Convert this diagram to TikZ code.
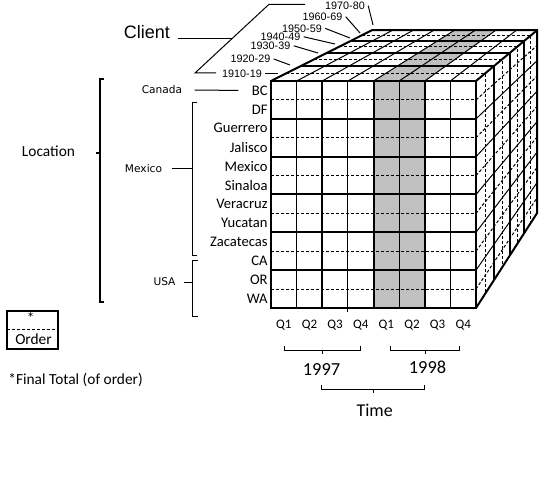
\documentclass[tikz,border=0pt]{standalone}
\usepackage{fontspec}
\setmainfont{Carlito}
\newfontfamily\arialfont{Liberation Sans}
\newfontfamily\verdfont{DejaVu Sans}
\usetikzlibrary{calc}
\definecolor{slicegray}{RGB}{192,192,192}

\begin{document}
\begin{tikzpicture}[x=0.5pt,y=-0.5pt,
  thk/.style={line width=1pt},
  thn/.style={line width=0.5pt},
  dsh/.style={line width=0.5pt,dash pattern=on 1.5pt off 1pt},
  brk/.style={line width=0.5pt},
  rowlab/.style={anchor=east,inner sep=0pt,font=\fontsize{7.3}{8}\selectfont},
  qlab/.style={inner sep=0pt,font=\fontsize{6.5}{7}\selectfont},
  declab/.style={inner sep=0pt,font=\arialfont\fontsize{5.4}{6}\selectfont},
  cntlab/.style={inner sep=0pt,font=\verdfont\fontsize{5.3}{6}\selectfont},
  txtlab/.style={inner sep=0pt,font=\fontsize{7.7}{9}\selectfont},
  yearlab/.style={inner sep=0pt,font=\fontsize{9.2}{10}\selectfont}]
  \fill[white] (0,0) rectangle (550,480);
  \useasboundingbox (0,0) rectangle (550,480);
  \def\xl{271}  \def\xr{476}
  \def\yt{81}   \def\yb{308}
  \def\cw{25.625}
  \def\rh{18.9167}
  \def\dk{0.242}  % depth foreshortening
  \coordinate (vp) at (790,-180);

  % ================= cube corner points =================
  \foreach \i in {0,...,8} {
    \coordinate (tl\i) at ($(vp)!{1/(1+\dk*\i/8)}!(\xl,\yt)$);
    \coordinate (tr\i) at ($(vp)!{1/(1+\dk*\i/8)}!(\xr,\yt)$);
    \coordinate (br\i) at ($(vp)!{1/(1+\dk*\i/8)}!(\xr,\yb)$);
  }
  \foreach \j in {0,...,8} {
    \coordinate (fc\j) at ({\xl+\cw*\j},\yt);
    \coordinate (bc\j) at ($(vp)!{1/(1+\dk)}!(fc\j)$);
  }
  \foreach \k in {0,...,12} {
    \coordinate (fr\k) at (\xr,{\yt+\rh*\k});
    \coordinate (bk\k) at ($(vp)!{1/(1+\dk)}!(fr\k)$);
  }

  % ================= 1998 Q1-Q2 slice =================
  \fill[slicegray] (fc4) -- (fc6) -- (bc6) -- (bc4) -- cycle;
  \fill[slicegray] (fc4) rectangle ({\xl+6*\cw},\yb);

  % front face
  \foreach \j in {1,3,5,7} \draw[thn] (fc\j) -- ({\xl+\cw*\j},\yb);
  \foreach \j in {2,4,6} \draw[thk] (fc\j) -- ({\xl+\cw*\j},\yb);
  \foreach \k in {1,3,...,11} \draw[dsh] (\xl,{\yt+\rh*\k}) -- (fr\k);
  \foreach \k in {2,4,...,10} \draw[thk] (\xl,{\yt+\rh*\k}) -- (fr\k);
  \draw[thn] ({\xl+3*\cw},\yb) -- ++(0,4);

  % top and side faces
  \foreach \j in {1,...,7} \draw[thn] (fc\j) -- (bc\j);
  \foreach \k in {1,3,...,11} \draw[dsh] (fr\k) -- (bk\k);
  \foreach \k in {2,4,...,10} \draw[thn] (fr\k) -- (bk\k);
  \foreach \i in {1,3,5,7} \draw[dsh] (tl\i) -- (tr\i) -- (br\i);
  \foreach \i in {2,4,6} \draw[thk] (tl\i) -- (tr\i) -- (br\i);

  % outline
  \draw[thk] (\xl,\yt) rectangle (\xr,\yb);
  \draw[thk] (tl0) -- (tl8) -- (tr8) -- (br8) -- (br0);
  \draw[thk] (tr0) -- (tr8);

  % ================= Client (decades) =================
  \node[inner sep=0pt,font=\arialfont\fontsize{9}{10}\selectfont] (cl) at (147,32) {Client};
  \coordinate (cb1) at (195,73);
  \coordinate (cb2) at (269,4.3);
  \draw[brk] (216,73) -- (cb1) -- (cb2) -- (305,4.3);
  \coordinate (cbm) at ($(cb1)!0.5!(cb2)$);
  \draw[brk] ([xshift=4pt]cl.east |- cbm) -- (cbm);
  \foreach \d/\x/\y/\ex/\ey [count=\n] in {1910-19/242/74/278/74,
      1920-29/250.5/59/290/65, 1930-39/270.5/45.8/318/53,
      1940-49/280.5/36.8/335/44, 1950-59/302/28.4/350/38,
      1960-69/322.5/16.7/360/33, 1970-80/345/5.7/373/25} {
    \node[declab] (dec\n) at (\x,\y) {\d};
    \coordinate (dt\n) at (\ex,\ey);
    \draw[thn] ([xshift=1.5pt]dec\n.east) -- (dt\n);
  }

  % ================= Location =================
  \foreach \lab [count=\k from 0] in {BC,DF,Guerrero,Jalisco,Mexico,Sinaloa,
      Veracruz,Yucatan,Zacatecas,CA,OR,WA}
    \node[rowlab] (r\k) at (268,{\yt+\rh*(\k+0.5)}) {\lab};

  \node[txtlab] (loc) at (48.5,151.7) {Location};
  \draw[line width=1pt] (104,79) -- (100,79) -- (100,302) -- (104,302);
  \draw[line width=1pt] (100,153) -- (96,153);

  \node[cntlab] (cn) at (162,90) {Canada};
  \draw[thn] ([xshift=6pt]cn.east) -- ([xshift=-6.5pt]r0.west);

  \node[cntlab] (mx) at (143.5,169) {Mexico};
  \draw[brk] (197,103) -- (192.7,103) -- (192.7,255.7) -- (197,255.7);
  \coordinate (mxm) at (192.7,169);
  \draw[brk] ([xshift=5pt]mx.east) -- (mxm);

  \node[cntlab] (us) at (164.5,282) {USA};
  \draw[brk] (198,260.7) -- (192.7,260.7) -- (192.7,316.7) -- (198,316.7);
  \coordinate (usm) at (192.7,282);
  \draw[brk] ([xshift=4pt]us.east) -- (usm);

  % ================= Time =================
  \foreach \q [count=\j from 0] in {Q1,Q2,Q3,Q4,Q1,Q2,Q3,Q4}
    \node[qlab] (q\j) at ({\xl+\cw*(\j+0.5)},325) {\q};
  \draw[brk] (284,346) -- (284,350.7) -- (360.7,350.7) -- (360.7,346);
  \draw[brk] (322.35,350.7) -- (322.35,354);
  \node[yearlab] (y97) at (321.5,370) {1997};
  \draw[brk] (390.7,346) -- (390.7,350.7) -- (459.3,350.7) -- (459.3,346);
  \draw[brk] (425,350.7) -- (425,354);
  \node[yearlab] (y98) at (427.5,367) {1998};
  \draw[brk] (321.7,385) -- (321.7,389.3) -- (424.3,389.3) -- (424.3,385);
  \draw[brk] (373,389.3) -- (373,393);
  \node[inner sep=0pt,font=\fontsize{9}{10}\selectfont] (tm) at (374.7,410) {Time};

  % ================= legend =================
  \draw[line width=1pt] (6.7,310.7) rectangle (58.3,349.3);
  \draw[dsh] (6.7,329.3) -- (58.3,329.3);
  \node[txtlab] (st) at (30.7,318) {*};
  \node[txtlab] (ord) at (33.5,339.3) {Order};
  \node[txtlab,anchor=west] (ft) at (8,380) {*Final Total (of order)};
\end{tikzpicture}
\end{document}
